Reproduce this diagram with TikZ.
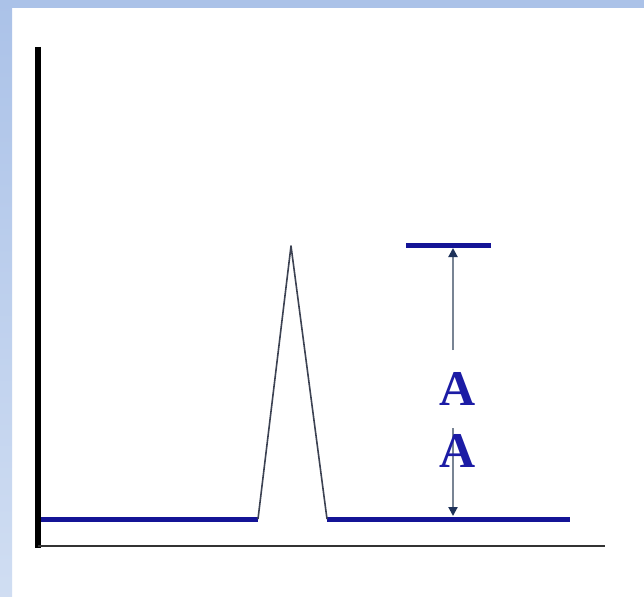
\documentclass[tikz,border=0pt]{standalone}
\usepackage{fontspec}
\setmainfont{Liberation Serif}
\usetikzlibrary{arrows.meta}
\definecolor{frametop}{RGB}{171,194,232}
\definecolor{frameleft}{RGB}{196,213,239}
\definecolor{baseblue}{RGB}{20,20,150}
\definecolor{peakgray}{RGB}{60,66,82}
\definecolor{arrowgray}{RGB}{120,132,148}
\definecolor{headnavy}{RGB}{30,50,90}
\definecolor{labelblue}{RGB}{28,28,165}
\tikzset{
  bluebar/.style={draw=baseblue, line width=5pt},
  peakline/.style={draw=peakgray, line width=1.6pt, line join=round},
  dimarrow/.style={draw=arrowgray, line width=2pt, -{Triangle[length=9pt,width=9pt,color=headnavy]}},
  alabel/.style={text=labelblue, font=\fontsize{50}{50}\selectfont\bfseries, anchor=base, inner sep=0pt}
}
\begin{document}
\begin{tikzpicture}[x=1pt,y=-1pt]
\useasboundingbox (0,0) rectangle (644,596);
\fill[white] (0,0) rectangle (644,596);
% frame strips
\shade[top color=frametop, bottom color=frameleft!80!white] (0,0) rectangle (12,596);
\fill[frametop] (0,0) rectangle (644,8);
% axes
\coordinate (ytop) at (38,47);
\coordinate (ybot) at (38,548);
\coordinate (xleft) at (38,546);
\coordinate (xright) at (605,546);
\draw[black, line width=6pt] (ytop) -- (ybot);
\draw[black!80, line width=2pt] (xleft) -- (xright);
% baseline with peak
\coordinate (bl0) at (41,519);
\coordinate (bl1) at (258,519);
\coordinate (apex) at (291,246);
\coordinate (br0) at (327,519);
\coordinate (br1) at (570,519);
\draw[bluebar] (bl0) -- (bl1);
\draw[bluebar] (br0) -- (br1);
\draw[peakline] (bl1) -- (apex) -- (br0);
% top bar
\coordinate (tb0) at (406,245);
\coordinate (tb1) at (491,245);
\draw[bluebar] (tb0) -- (tb1);
% dimension arrow
\coordinate (atop) at (453,248);
\coordinate (amid1) at (453,350);
\coordinate (amid2) at (453,428);
\coordinate (abot) at (453,516);
\draw[dimarrow] (amid1) -- (atop);
\draw[dimarrow] (amid2) -- (abot);
% labels
\node[alabel] (lab1) at (457.5,405) {A};
\node[alabel] (lab2) at (457.5,467) {A};
\end{tikzpicture}
\end{document}
